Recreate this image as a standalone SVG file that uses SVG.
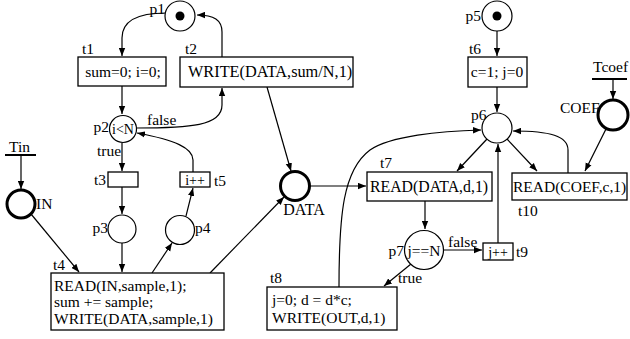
<svg xmlns="http://www.w3.org/2000/svg" width="630" height="339" viewBox="0 0 630 339">
  <style>
    text { font-family: "Liberation Serif", "Times New Roman", serif; font-size: 15.5px; fill: #000; }
    .mid { text-anchor: middle; }
    .end { text-anchor: end; }
    .box { fill: #fff; stroke: #000; stroke-width: 1.3; }
    .place { fill: #fff; stroke: #000; stroke-width: 1.2; }
    .port { fill: #fff; stroke: #000; stroke-width: 3; }
    .token { fill: #000; }
    .arc { fill: none; stroke: #000; stroke-width: 1.2; marker-end: url(#arrow); }
    .bar { stroke: #000; stroke-width: 2; }
  </style>
  <defs>
    <marker id="arrow" markerUnits="userSpaceOnUse" markerWidth="9" markerHeight="7" refX="8" refY="3.5" orient="auto">
      <path d="M0,0.3 L8,3.5 L0,6.7 z" fill="#000"/>
    </marker>
  </defs>
  <rect width="630" height="339" fill="#fff"/>

  <!-- connectors -->
  <g id="arcs">
    <path class="arc" d="M166,13 C140,13 122,20 122,38 L122,56"/>
    <path class="arc" d="M222,57 L222,32 C222,20 214,15 197,15"/>
    <path class="arc" d="M122,86 L122,114"/>
    <path class="arc" d="M136,128 C190,128 222,126 222,105 L222,88"/>
    <path class="arc" d="M122,143 L122,171"/>
    <path class="arc" d="M122,187 L122,214"/>
    <path class="arc" d="M122,243 L122,272"/>
    <path class="arc" d="M152,273 L172,243"/>
    <path class="arc" d="M186,216 L193,188"/>
    <path class="arc" d="M193,172 L193,160 C193,148 175,140 137,133"/>
    <path class="arc" d="M21,155 L21,189"/>
    <path class="arc" d="M31,214 L79,272"/>
    <path class="arc" d="M210,273 L284,197"/>
    <path class="arc" d="M267,87 L291,171"/>
    <path class="arc" d="M310,186 L366,186"/>
    <path class="arc" d="M497,31 L497,56"/>
    <path class="arc" d="M497,87 L497,112"/>
    <path class="arc" d="M487,139 L457,171"/>
    <path class="arc" d="M507,139 L537,171"/>
    <path class="arc" d="M568,173 L568,150 C568,136 550,131 513,131"/>
    <path class="arc" d="M613,80 L613,99"/>
    <path class="arc" d="M606,129 L585,171"/>
    <path class="arc" d="M425,201 L425,229"/>
    <path class="arc" d="M443,250 L482,250"/>
    <path class="arc" d="M498,243 L498,144"/>
    <path class="arc" d="M411,264 L384,286"/>
    <path class="arc" d="M339,287 C339,215 343,170 370,150 C390,136 440,131 481,130"/>
  </g>

  <!-- places -->
  <g id="p1">
    <circle class="place" cx="180" cy="16" r="15"/>
    <circle class="token" cx="180" cy="16" r="4.5"/>
    <text class="end" x="165" y="14">p1</text>
  </g>
  <g id="p2">
    <circle class="place" cx="123" cy="129" r="13.5"/>
    <text class="mid" x="123" y="134" style="font-size:14px">i&lt;N</text>
    <text class="end" x="109" y="132">p2</text>
  </g>
  <g id="p3">
    <circle class="place" cx="122" cy="229" r="14"/>
    <text class="end" x="108" y="233">p3</text>
  </g>
  <g id="p4">
    <circle class="place" cx="180" cy="230" r="14.5"/>
    <text x="195" y="233">p4</text>
  </g>
  <g id="IN">
    <circle class="port" cx="21" cy="204" r="14"/>
    <text x="36" y="209">IN</text>
  </g>
  <g id="Tin">
    <text x="9" y="152">Tin</text>
    <line class="bar" x1="5" y1="155" x2="36" y2="155"/>
  </g>
  <g id="DATA">
    <circle class="port" cx="295" cy="186" r="14.5"/>
    <text class="mid" x="304" y="215" style="font-size:16px">DATA</text>
  </g>
  <g id="p5">
    <circle class="place" cx="497" cy="16" r="15"/>
    <circle class="token" cx="497" cy="16" r="4.5"/>
    <text class="end" x="481" y="21">p5</text>
  </g>
  <g id="p6">
    <circle class="place" cx="497" cy="128" r="15"/>
    <text x="471" y="120">p6</text>
  </g>
  <g id="COEF">
    <circle class="port" cx="613" cy="115" r="15"/>
    <text x="560" y="113">COEF</text>
  </g>
  <g id="Tcoef">
    <text x="593" y="72">Tcoef</text>
    <line class="bar" x1="592" y1="79" x2="627" y2="79"/>
  </g>
  <g id="p7">
    <circle class="place" cx="424" cy="250" r="19.5"/>
    <text class="mid" x="424" y="256">j==N</text>
    <text class="end" x="404" y="256">p7</text>
  </g>

  <!-- transitions -->
  <g id="t1">
    <rect class="box" x="78" y="57" width="88" height="29"/>
    <text class="mid" x="123" y="77">sum=0; i=0;</text>
    <text x="82" y="54">t1</text>
  </g>
  <g id="t2">
    <rect class="box" x="180" y="57" width="173" height="30"/>
    <text x="188" y="77" style="font-size:16.3px">WRITE(DATA,sum/N,1)</text>
    <text x="185" y="54">t2</text>
  </g>
  <g id="t3">
    <rect class="box" x="108" y="172" width="30" height="15"/>
    <text class="end" x="106" y="185">t3</text>
  </g>
  <g id="t5">
    <rect class="box" x="180" y="172" width="30" height="15"/>
    <text class="mid" x="195" y="185" style="font-size:14px">i++</text>
    <text x="214" y="186">t5</text>
  </g>
  <g id="t4">
    <rect class="box" x="51" y="273" width="173" height="57"/>
    <text x="54" y="291">READ(IN,sample,1);</text>
    <text x="54" y="307">sum += sample;</text>
    <text x="54" y="324">WRITE(DATA,sample,1)</text>
    <text x="53" y="270">t4</text>
  </g>
  <g id="t6">
    <rect class="box" x="468" y="57" width="59" height="30"/>
    <text class="mid" x="497" y="77">c=1; j=0</text>
    <text x="469" y="54">t6</text>
  </g>
  <g id="t7">
    <rect class="box" x="367" y="172" width="125" height="29"/>
    <text x="370" y="192" style="font-size:15.8px">READ(DATA,d,1)</text>
    <text x="380" y="168">t7</text>
  </g>
  <g id="t10">
    <rect class="box" x="512" y="173" width="115" height="27"/>
    <text x="513" y="192">READ(COEF,c,1)</text>
    <text x="518" y="216">t10</text>
  </g>
  <g id="t9">
    <rect class="box" x="483" y="243" width="30" height="17"/>
    <text class="mid" x="498" y="257" style="font-size:14px">j++</text>
    <text x="516" y="257">t9</text>
  </g>
  <g id="t8">
    <rect class="box" x="267" y="287" width="130" height="43"/>
    <text x="272" y="305">j=0; d = d*c;</text>
    <text x="272" y="323">WRITE(OUT,d,1)</text>
    <text x="270" y="283">t8</text>
  </g>

  <!-- guard labels -->
  <g id="guards">
    <text x="147" y="125">false</text>
    <text x="97" y="156">true</text>
    <text x="448" y="247">false</text>
    <text x="398" y="283">true</text>
  </g>
</svg>
